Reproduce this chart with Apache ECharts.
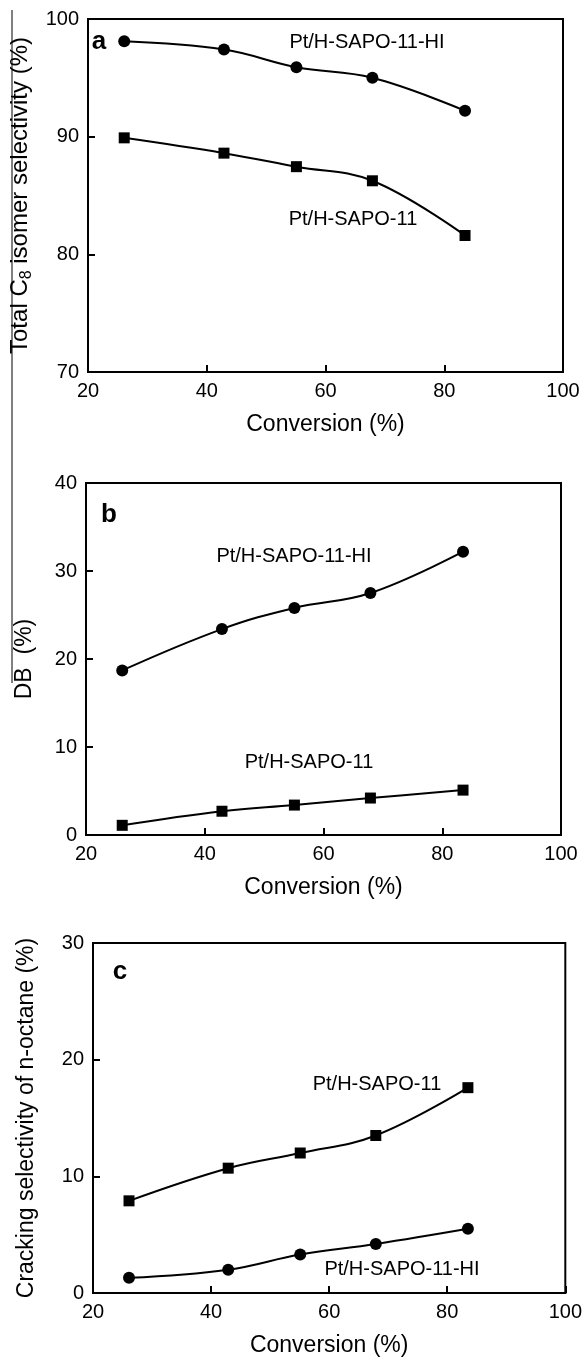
<!DOCTYPE html>
<html>
<head>
<meta charset="utf-8">
<script src="https://cdn.jsdelivr.net/npm/echarts@6/dist/echarts.min.js"></script>
<style>
html,body{margin:0;padding:0;background:#fff;}
#chart{width:585px;height:1358px;}
</style>
</head>
<body>
<div id="chart"></div>
<script>
// ---- data ----
const conversion = [26.1, 42.9, 55.1, 67.9, 83.5];
const isoHI   = [98.1, 97.4, 95.9, 95.0, 92.2];
const isoSAPO = [89.9, 88.6, 87.45, 86.25, 81.6];
const dbHI    = [18.7, 23.4, 25.8, 27.5, 32.2];
const dbSAPO  = [1.1, 2.7, 3.4, 4.2, 5.1];
const crackSAPO = [7.9, 10.7, 12.0, 13.5, 17.6];
const crackHI   = [1.3, 2.0, 3.3, 4.2, 5.5];
const xTicks = [20, 40, 60, 80, 100];
const nameHI = 'Pt/H-SAPO-11-HI';
const nameSAPO = 'Pt/H-SAPO-11';

const FONT = '"Liberation Sans", Arial, Helvetica, sans-serif';
const pair = (xs, ys) => xs.map((x, i) => [x, ys[i]]);

const grids = [
  {left: 88, top: 19, width: 475, height: 353},
  {left: 86, top: 483, width: 475, height: 352},
  {left: 93, top: 943, width: 476, height: 352}
];

function xAxis(gi){
  return {
    type: 'value', gridIndex: gi, min: 20, max: 100, interval: 20,
    name: 'Conversion (%)', nameLocation: 'middle', nameGap: 41,
    nameTextStyle: {fontFamily: FONT, fontSize: 23, color: '#000'},
    axisLine: {show: true, onZero: false, lineStyle: {color: '#000', width: 2}},
    axisTick: {show: true, inside: true, length: 7, lineStyle: {color: '#000', width: 2}},
    axisLabel: {fontFamily: FONT, fontSize: 20, color: '#000', margin: 9},
    splitLine: {show: false}
  };
}
function yAxis(gi, min, max, name, gap, size, rich){
  return {
    type: 'value', gridIndex: gi, min: min, max: max, interval: 10,
    name: name, nameLocation: 'middle', nameGap: gap, nameRotate: 90,
    nameTextStyle: {fontFamily: FONT, fontSize: size, color: '#000', rich: rich || {}},
    axisLine: {show: true, lineStyle: {color: '#000', width: 2}},
    axisTick: {show: true, inside: true, length: 7, lineStyle: {color: '#000', width: 2}},
    axisLabel: {fontFamily: FONT, fontSize: 20, color: '#000', margin: 9},
    splitLine: {show: false}
  };
}
function line(gi, data, symbol, name){
  return {
    type: 'line', name: name, xAxisIndex: gi, yAxisIndex: gi,
    data: data, smooth: 0.4, symbol: symbol, symbolSize: symbol === 'circle' ? 12 : 11,
    showAllSymbol: true,
    lineStyle: {color: '#000', width: 2}, itemStyle: {color: '#000'},
    emphasis: {disabled: true}, silent: true, animation: false
  };
}

const chart = echarts.init(document.getElementById('chart'), null, {renderer: 'canvas'});
const ann = (x, y, t) => ({type: 'text', x: x, y: y, style: {text: t, font: '20px ' + FONT, fill: '#000', textAlign: 'center', textVerticalAlign: 'middle'}});
const letter = (x, y, t) => ({type: 'text', x: x, y: y, style: {text: t, font: 'bold 26px ' + FONT, fill: '#000', textAlign: 'center', textVerticalAlign: 'middle'}});
chart.setOption({
  animation: false,
  backgroundColor: '#fff',
  grid: grids.map(g => Object.assign({show: true, borderColor: '#000', borderWidth: 2, backgroundColor: 'transparent'}, g)),
  xAxis: [xAxis(0), xAxis(1), xAxis(2)],
  yAxis: [
    yAxis(0, 70, 100, 'Total C{sub|8} isomer selectivity (%)', 52, 24,
      {sub: {fontFamily: FONT, fontSize: 16, color: '#000', verticalAlign: 'bottom', padding: [12, 0, 0, 0]}}),
    yAxis(1, 0, 40, 'DB  (%)', 50, 23),
    yAxis(2, 0, 30, 'Cracking selectivity of n-octane (%)', 55, 23)
  ],
  series: [
    line(0, pair(conversion, isoHI), 'circle', nameHI),
    line(0, pair(conversion, isoSAPO), 'rect', nameSAPO),
    line(1, pair(conversion, dbHI), 'circle', nameHI),
    line(1, pair(conversion, dbSAPO), 'rect', nameSAPO),
    line(2, pair(conversion, crackSAPO), 'rect', nameSAPO),
    line(2, pair(conversion, crackHI), 'circle', nameHI)
  ],
  graphic: [
    {type: 'line', shape: {x1: 12, y1: 10, x2: 12, y2: 683}, style: {stroke: '#000', lineWidth: 1}},
    letter(99, 42, 'a'),
    letter(109, 515, 'b'),
    letter(120, 972, 'c'),
    ann(367, 42, nameHI),
    ann(353, 219, nameSAPO),
    ann(294, 556, nameHI),
    ann(309, 762, nameSAPO),
    ann(377, 1084, nameSAPO),
    ann(402, 1269, nameHI)
  ]
});
</script>
</body>
</html>
